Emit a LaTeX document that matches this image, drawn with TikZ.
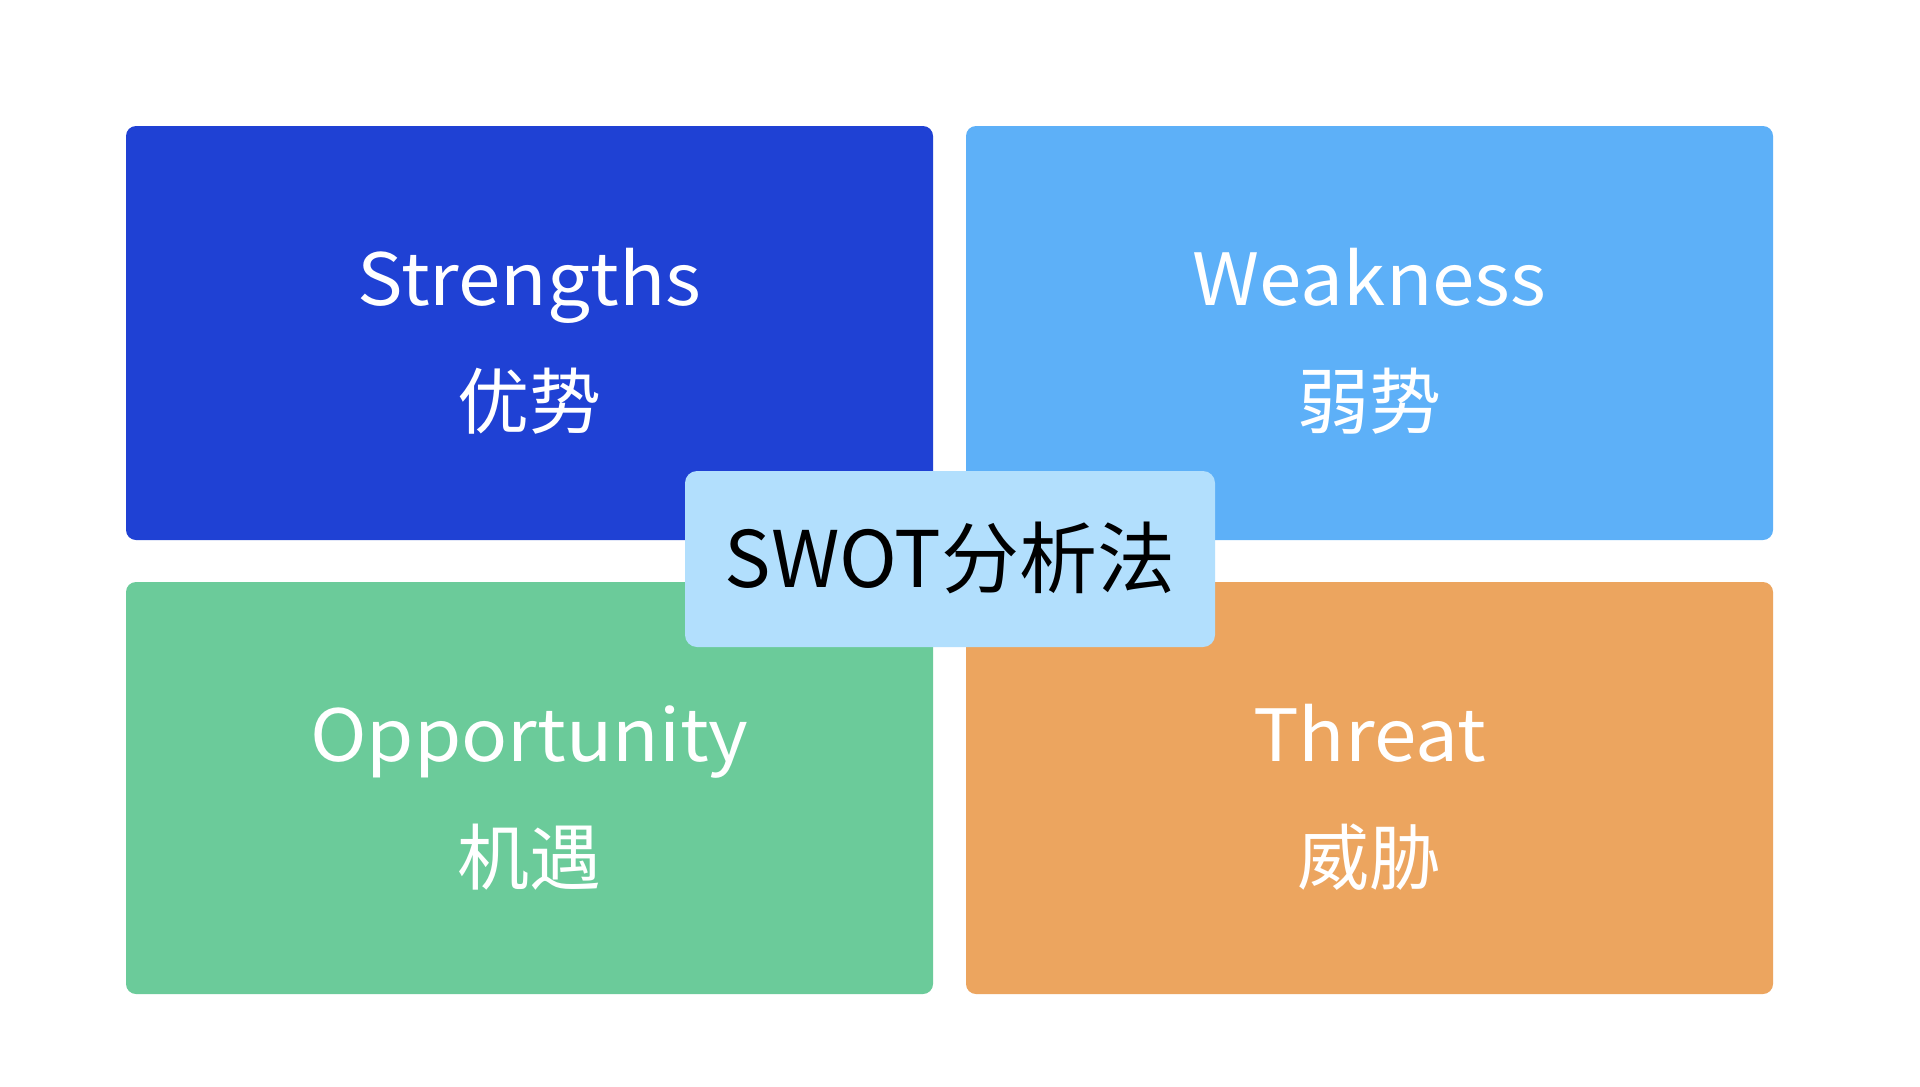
\documentclass[tikz,border=0pt]{standalone}
\usepackage{fontspec}
\setmainfont{Noto Sans CJK SC}
\newfontfamily\widelatin[FakeStretch=1.06]{Noto Sans CJK SC}
\definecolor{cS}{RGB}{31,65,212}
\definecolor{cW}{RGB}{93,176,248}
\definecolor{cO}{RGB}{107,203,154}
\definecolor{cT}{RGB}{236,165,95}
\definecolor{cC}{RGB}{178,223,253}
\tikzset{
  quad/.style={rounded corners=10pt},
  lbl/.style={anchor=base, text=white, font=\fontsize{72}{80}\selectfont, inner sep=0pt},
  lat/.style={lbl, font=\widelatin\fontsize{72}{80}\selectfont},
  ctr/.style={anchor=base, text=black, font=\fontsize{78}{86}\selectfont, inner sep=0pt}
}
\begin{document}
\begin{tikzpicture}[x=1pt,y=-1pt]
\useasboundingbox[fill=white] (0,0) rectangle (1920,1087);
\fill[cS,quad] (126,126) rectangle (933,540);
\fill[cW,quad] (966,126) rectangle (1773,540);
\fill[cO,quad] (126,582) rectangle (933,994);
\fill[cT,quad] (966,582) rectangle (1773,994);
\node[lat] (s1) at (529.5,305) {Strengths};
\node[lbl] (s2) at (529.5,428) {优势};
\node[lat] (w1) at (1369.5,305) {Weakness};
\node[lbl] (w2) at (1369.5,428) {弱势};
\node[lat] (o1) at (529.5,761) {Opportunity};
\node[lbl] (o2) at (529.5,884) {机遇};
\node[lat] (t1) at (1369.5,761) {Threat};
\node[lbl] (t2) at (1369.5,884) {威胁};
\fill[cC,rounded corners=12pt] (685,471) rectangle (1215,647);
\node[ctr] (c) at (950,587) {SWOT分析法};
\end{tikzpicture}
\end{document}
